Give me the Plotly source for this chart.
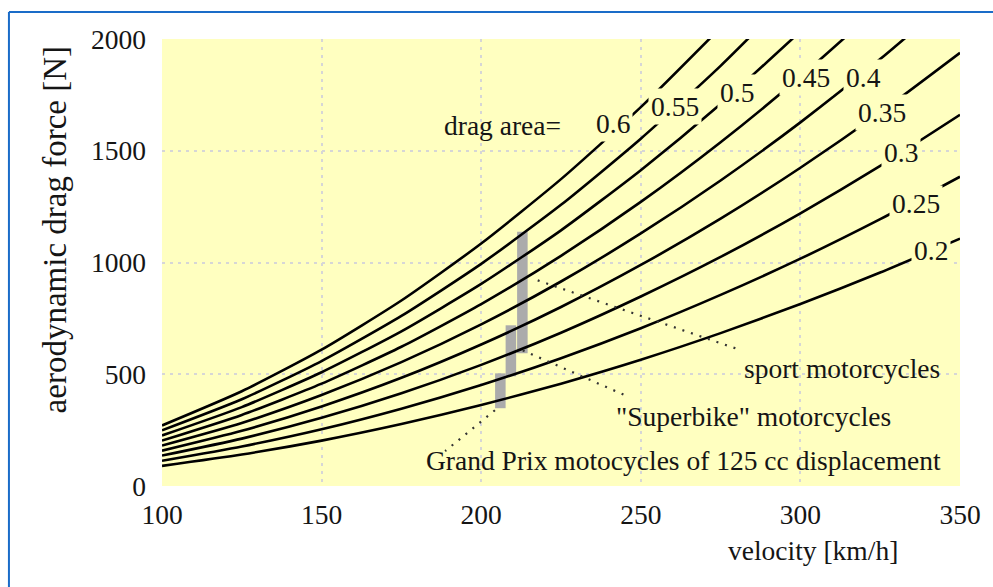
import plotly.graph_objects as go

# ---- data ----
velocity = [100, 125, 150, 175, 200, 225, 250, 275, 300, 325, 350]  # km/h

force_020 = [90, 141, 203, 277, 362, 458, 565, 684, 814, 955, 1107]
force_025 = [113, 177, 254, 346, 452, 572, 706, 855, 1017, 1194, 1384]
force_030 = [136, 212, 305, 415, 542, 686, 848, 1025, 1220, 1432, 1661]
force_035 = [158, 247, 356, 484, 633, 801, 989, 1196, 1424, 1671, 1938]
force_040 = [181, 282, 407, 554, 723, 915, 1130, 1367, 1627, 1910, 2215]
force_045 = [203, 318, 458, 623, 814, 1030, 1271, 1538, 1831, 2148]
force_050 = [226, 353, 509, 692, 904, 1144, 1413, 1709, 2034]
force_055 = [249, 388, 559, 761, 994, 1258, 1554, 1880, 2237]
force_060 = [271, 424, 610, 830, 1085, 1373, 1695, 2051]

drag_area_labels = ["0.2", "0.25", "0.3", "0.35", "0.4", "0.45", "0.5", "0.55", "0.6"]
series = [force_020, force_025, force_030, force_035, force_040,
          force_045, force_050, force_055, force_060]
# label positions (velocity, force) where each curve is labelled
label_velocity = [341.0, 336.3, 331.6, 325.7, 319.8, 301.7, 280.0, 260.6, 241.3]
label_force = [1054, 1263, 1491, 1670, 1830, 1826, 1759, 1696, 1621]

# vehicle-class force ranges (gray bars)
class_names = ["Grand Prix motocycles of 125 cc displacement",
               "\"Superbike\" motorcycles", "sport motorcycles"]
class_velocity = [206.0, 209.3, 212.9]
class_force_low = [348, 491, 594]
class_force_high = [504, 719, 1138]

# ---- styling ----
BG = "#ffffc0"
FONT = "Liberation Serif"
TXT = "#151515"
FS = 27.5

fig = go.Figure()

fig.add_trace(go.Bar(
    x=class_velocity,
    y=[h - l for h, l in zip(class_force_high, class_force_low)],
    base=class_force_low,
    width=3.3,
    marker=dict(color="#ababab", line=dict(width=0)),
    hoverinfo="skip",
))

for ys in series:
    fig.add_trace(go.Scatter(
        x=velocity[:len(ys)], y=ys, mode="lines",
        line=dict(color="black", width=2.6, shape="spline", smoothing=0.6),
        hoverinfo="skip",
    ))

annotations = []
for lab, lx, ly in zip(drag_area_labels, label_velocity, label_force):
    annotations.append(dict(
        x=lx, y=ly, xref="x", yref="y", text=lab, showarrow=False,
        font=dict(family=FONT, size=FS, color=TXT), bgcolor=BG, borderpad=2,
        xanchor="center", yanchor="middle"))

annotations.append(dict(x=206.8, y=1612, xref="x", yref="y", text="drag area=",
                        showarrow=False, font=dict(family=FONT, size=FS, color=TXT),
                        xanchor="center", yanchor="middle"))

class_label_pos = [(263.4, 112), (285.2, 312), (313.0, 527)]
for name, (lx, ly) in zip(class_names, class_label_pos):
    annotations.append(dict(x=lx, y=ly, xref="x", yref="y", text=name,
                            showarrow=False, font=dict(family=FONT, size=FS, color=TXT),
                            xanchor="center", yanchor="middle"))

annotations.append(dict(x=0.8157, y=-0.145, xref="paper", yref="paper",
                        text="velocity [km/h]", showarrow=False,
                        font=dict(family=FONT, size=FS, color=TXT),
                        xanchor="center", yanchor="middle"))
annotations.append(dict(x=-0.134, y=0.572, xref="paper", yref="paper",
                        text="aerodynamic drag force [N]", showarrow=False, textangle=-90,
                        font=dict(family=FONT, size=33, color=TXT),
                        xanchor="center", yanchor="middle"))

shapes = []
# dotted leader lines from bars to class labels
leaders = [((204.3, 339), (188.7, 156)), ((213.0, 607), (245.7, 402)), ((217.7, 920), (281.5, 607))]
for (x0, y0), (x1, y1) in leaders:
    shapes.append(dict(type="line", xref="x", yref="y", x0=x0, y0=y0, x1=x1, y1=y1,
                       line=dict(color="#333333", width=2.2, dash="2px,7px")))
# blue frame of the picture
shapes.append(dict(type="line", xref="paper", yref="paper", x0=-0.1918, x1=-0.1918,
                   y0=1.0604, y1=-0.3, line=dict(color="#1a6cc8", width=2)))
shapes.append(dict(type="line", xref="paper", yref="paper", x0=-0.1918, x1=1.1,
                   y0=1.0604, y1=1.0604, line=dict(color="#1a6cc8", width=2)))

fig.update_layout(
    width=993, height=587,
    margin=dict(l=162, r=28, t=39, b=101),
    paper_bgcolor="white", plot_bgcolor=BG,
    showlegend=False, barmode="overlay",
    font=dict(family=FONT, size=FS, color=TXT),
    annotations=annotations, shapes=shapes,
)
fig.update_xaxes(range=[100, 350], tickvals=[100, 150, 200, 250, 300, 350],
                 showgrid=True, gridcolor="#d6d6d6", griddash="3px,5px", gridwidth=1.5,
                 zeroline=False, showline=False, ticks="", ticklabelstandoff=9,
                 tickfont=dict(family=FONT, size=FS, color=TXT))
fig.update_yaxes(range=[0, 2000], tickvals=[0, 500, 1000, 1500, 2000],
                 showgrid=True, gridcolor="#d6d6d6", griddash="3px,5px", gridwidth=1.5,
                 zeroline=False, showline=False, ticks="", ticklabelstandoff=15,
                 tickfont=dict(family=FONT, size=FS, color=TXT))

fig.write_html("out.html")
